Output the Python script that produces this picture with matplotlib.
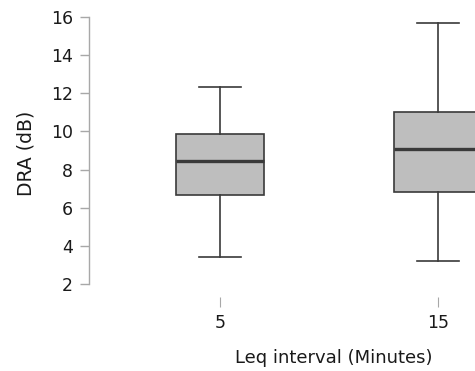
import matplotlib
matplotlib.use("Agg")
import matplotlib.pyplot as plt

# ── Data: box statistics per Leq interval ────────────────────────────────────
intervals  = ["5", "15"]
whislo     = [3.42, 3.20]
q1         = [6.67, 6.82]
medians    = [8.45, 9.08]
q3         = [9.87, 11.02]
whishi     = [12.33, 15.69]

# ── Styling ──────────────────────────────────────────────────────────────────
BOX_FACE = "#bebebe"
EDGE     = "#3a3a3a"
AXIS     = "#a8a8a8"
TEXT     = "#1a1a1a"

plt.rcParams["font.family"] = ["DejaVu Sans"]

fig = plt.figure(figsize=(4.75, 3.71), dpi=100)
ax = fig.add_axes([89 / 475, 74 / 371, 1 - 89 / 475, 287 / 371])

stats = []
for lab, lo, a, m, b, hi in zip(intervals, whislo, q1, medians, q3, whishi):
    stats.append(dict(label=lab, whislo=lo, q1=a, med=m, q3=b, whishi=hi, fliers=[]))

ax.bxp(stats, positions=[0, 1], widths=0.4, capwidths=0.195,
       patch_artist=True, showfliers=False,
       boxprops=dict(facecolor=BOX_FACE, edgecolor=EDGE, linewidth=1.2),
       medianprops=dict(color=EDGE, linewidth=2.4, solid_capstyle="butt"),
       whiskerprops=dict(color=EDGE, linewidth=1.2),
       capprops=dict(color=EDGE, linewidth=1.2))

ax.set_xlim(-0.601, 1.17)
ax.set_ylim(1.32, 16.37)

for side in ("top", "right", "bottom"):
    ax.spines[side].set_visible(False)
ax.spines["left"].set_bounds(2, 16)
ax.spines["left"].set_color(AXIS)
ax.spines["left"].set_linewidth(1.0)

ax.set_yticks(range(2, 17, 2))
ax.tick_params(axis="y", length=6.5, width=1.0, color=AXIS, pad=5,
               labelsize=12.5, labelcolor=TEXT)
ax.tick_params(axis="x", length=7, width=0.8, color=AXIS, pad=5.5,
               labelsize=12.5, labelcolor=TEXT)
ax.set_xticks([0, 1], intervals)

ax.set_ylabel("DRA (dB)", fontsize=13.5, color=TEXT)
ax.set_xlabel("Leq interval (Minutes)", fontsize=13, color=TEXT)
ax.yaxis.set_label_coords(-53 / 386, 0.5)
ax.xaxis.set_label_coords((334 - 89) / 386, -52 / 287)

fig.savefig("out.png", dpi=100)
